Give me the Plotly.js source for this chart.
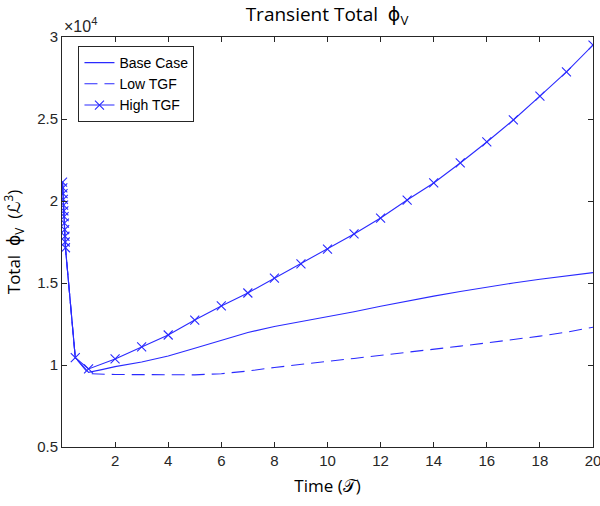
<!DOCTYPE html>
<html>
<head>
<meta charset="utf-8">
<script src="https://cdn.plot.ly/plotly-3.0.1.min.js"></script>
<style>html,body{margin:0;padding:0;background:#fff}#chart{width:600px;height:506px}</style>
</head>
<body>
<div id="chart"></div>
<script>
// Shared initial transient (small time steps near t=0)
const earlyT = [0.02, 0.03, 0.04, 0.05, 0.06, 0.07, 0.08, 0.09, 0.10, 0.11, 0.12, 0.13];
const earlyV = [21150, 20800, 20450, 20100, 19750, 19400, 19050, 18650, 18250, 17850, 17500, 17150];

const baseT = [0.5, 1, 1.5, 2, 3, 4, 5, 6, 7, 8, 9, 10, 11, 12, 13, 14, 15, 16, 17, 18, 19, 20];
const baseV = [10450, 9550, 9720, 9900, 10180, 10550, 11020, 11520, 11980, 12350, 12640, 12940, 13250, 13580, 13900, 14200, 14480, 14750, 15000, 15230, 15440, 15630];

const lowT = [0.5, 1, 2, 3, 4, 5, 6, 7, 8, 9, 10, 11, 12, 13, 14, 15, 16, 17, 18, 19, 20];
const lowV = [10450, 9470, 9420, 9400, 9390, 9400, 9470, 9630, 9850, 10050, 10220, 10400, 10580, 10750, 10960, 11150, 11350, 11550, 11760, 12000, 12300];

const highT = [0.5, 1, 2, 3, 4, 5, 6, 7, 8, 9, 10, 11, 12, 13, 14, 15, 16, 17, 18, 19, 20];
const highV = [10450, 9760, 10370, 11100, 11830, 12740, 13600, 14390, 15300, 16160, 17070, 17990, 18960, 20060, 21100, 22320, 23600, 24940, 26400, 27870, 29510];

const yTickVals = [5000, 10000, 15000, 20000, 25000, 30000];
const yTickText = ['0.5', '1', '1.5', '2', '2.5', '3'];
const xTickVals = [2, 4, 6, 8, 10, 12, 14, 16, 18, 20];

const col = '#2a2aff';
const traces = [
  {x: earlyT.concat(baseT), y: earlyV.concat(baseV), name: 'Base Case', mode: 'lines',
   line: {color: col, width: 1.1}},
  {x: earlyT.concat(lowT), y: earlyV.concat(lowV), name: 'Low TGF', mode: 'lines',
   line: {color: col, width: 1.1, dash: '13px,7px'}},
  {x: earlyT.concat(highT), y: earlyV.concat(highV), name: 'High TGF', mode: 'lines+markers',
   line: {color: col, width: 1.1},
   marker: {symbol: 'x-thin-open', size: 9, color: col, line: {color: col, width: 1.1}}}
];

const axisCommon = {
  showgrid: false, zeroline: false, showline: true, mirror: 'ticks',
  linecolor: '#262626', linewidth: 1, ticks: 'inside', ticklen: 5, tickcolor: '#262626',
  ticklabeloverflow: 'allow',
  tickfont: {family: 'Liberation Sans, Arial, sans-serif', size: 15, color: '#262626'}
};

const layout = {
  width: 600, height: 506,
  margin: {l: 62, r: 7, t: 37, b: 59},
  paper_bgcolor: '#fff', plot_bgcolor: '#fff',
  showlegend: true,
  title: {text: 'Transient Total  ϕ<sub>V</sub>', x: 0.545, xanchor: 'center',
          yref: 'container', y: 0.972, yanchor: 'middle',
          font: {family: 'Open Sans, DejaVu Sans, sans-serif', size: 19, color: '#000'}},
  xaxis: Object.assign({}, axisCommon, {
    range: [0, 20], tickvals: xTickVals,
    title: {text: 'Time (𝒯)', standoff: 12, font: {family: 'Open Sans, DejaVu Sans, sans-serif', size: 17, color: '#000'}}
  }),
  yaxis: Object.assign({}, axisCommon, {
    range: [5000, 30000], tickvals: yTickVals, ticktext: yTickText,
    title: {text: 'Total  ϕ<sub>V</sub>  (ℒ<sup>3</sup>)', standoff: 12, font: {family: 'Open Sans, DejaVu Sans, sans-serif', size: 17, color: '#000'}}
  }),
  legend: {x: 0.031, y: 0.978, xanchor: 'left', yanchor: 'top',
           bordercolor: '#262626', borderwidth: 1, bgcolor: '#fff',
           font: {family: 'Liberation Sans, Arial, sans-serif', size: 14, color: '#000'},
           tracegroupgap: 0},
  annotations: [{text: '×10<sup>4</sup>', xref: 'paper', yref: 'paper', x: 0, y: 1.0,
                 xanchor: 'left', yanchor: 'bottom', showarrow: false, yshift: 0,
                 font: {family: 'Liberation Sans, Arial, sans-serif', size: 16, color: '#262626'}}]
};

Plotly.newPlot('chart', traces, layout, {displayModeBar: false, staticPlot: true});
</script>
</body>
</html>
